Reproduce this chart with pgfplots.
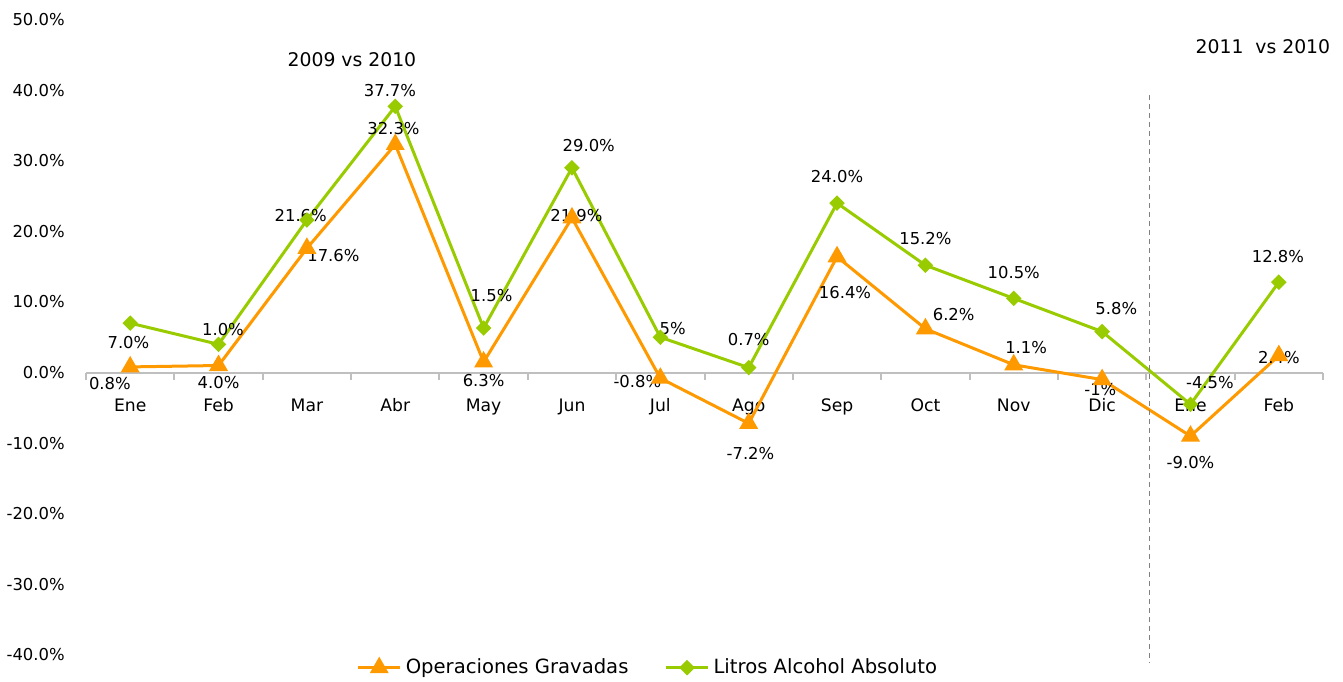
\documentclass[border=0pt]{standalone}
\usepackage{pgfplots}
\pgfplotsset{compat=1.18}
\usepackage{fontspec}
\setmainfont{DejaVu Sans}
\definecolor{orng}{HTML}{FF9900}
\definecolor{grn}{HTML}{99CC00}
\definecolor{axgray}{HTML}{BFBFBF}
\newcommand{\lbl}{\fontsize{8.2}{10}\selectfont}
\newcommand{\xlbl}{\fontsize{8.6}{10}\selectfont}
\begin{document}
\begin{tikzpicture}
\begin{axis}[
  at={(0,0)}, anchor=south west,
  scale only axis, width=618.5pt, height=317.75pt,
  xmin=-0.5, xmax=13.5, ymin=-40, ymax=50,
  clip=false,
  axis x line=middle, axis y line=left,
  x axis line style={draw=axgray, line width=1pt, -},
  y axis line style={draw=none, -},
  xtick={0,...,13},
  xticklabels={Ene,Feb,Mar,Abr,May,Jun,Jul,Ago,Sep,Oct,Nov,Dic,Ene,Feb},
  major x tick style={draw=none},
  minor xtick={-0.5,0.5,...,13.5},
  minor tick length=3.5pt,
  xtick align=outside,
  minor x tick style={draw=axgray, line width=1pt},
  x tick label style={font=\xlbl, anchor=base, yshift=-15pt},
  ytick={-40,-30,...,50},
  yticklabels={-40.0\%,-30.0\%,-20.0\%,-10.0\%,0.0\%,10.0\%,20.0\%,30.0\%,40.0\%,50.0\%},
  ytick style={draw=none},
  y tick label style={font=\lbl, anchor=east, xshift=-5pt},
  legend style={draw=none, at={(axis cs:5.87,-41.8)}, anchor=center, font=\fontsize{9.8}{11}\selectfont,
    legend columns=2, /tikz/every even column/.append style={column sep=16pt}},
  legend image code/.code={\draw[mark repeat=2,mark phase=2] plot coordinates {(0cm,0cm) (0.37cm,0cm) (0.74cm,0cm)};},
]
\addplot[orng, line width=1.5pt, mark=triangle*, mark size=4pt, mark options={solid}]
  coordinates {(0,0.8) (1,1.0) (2,17.6) (3,32.3) (4,1.5) (5,21.9) (6,-0.8) (7,-7.2) (8,16.4) (9,6.2) (10,1.1) (11,-1.0) (12,-9.0) (13,2.4)};
\addlegendentry{Operaciones Gravadas}
\addplot[grn, line width=1.5pt, mark=square*, mark size=2pt, mark options={solid, rotate=45}]
  coordinates {(0,7.0) (1,4.0) (2,21.6) (3,37.7) (4,6.3) (5,29.0) (6,5.0) (7,0.7) (8,24.0) (9,15.2) (10,10.5) (11,5.8) (12,-4.5) (13,12.8)};
\addlegendentry{Litros Alcohol Absoluto}
\begin{scope}[every node/.style={font=\lbl, inner sep=0pt}]
% orange series labels
\node at (axis cs:-0.23,-1.56) {0.8\%};
\node at (axis cs:1.0,-1.4) {4.0\%};
\node at (axis cs:2.3,16.6) {17.6\%};
\node at (axis cs:2.98,34.6) {32.3\%};
\node at (axis cs:4.0,-1.1) {6.3\%};
\node at (axis cs:5.05,22.3) {21.9\%};
\node at (axis cs:5.74,-1.3) {-0.8\%};
\node at (axis cs:7.02,-11.5) {-7.2\%};
\node at (axis cs:8.09,11.3) {16.4\%};
\node at (axis cs:9.32,8.2) {6.2\%};
\node at (axis cs:10.14,3.5) {1.1\%};
\node at (axis cs:10.98,-2.4) {-1\%};
\node at (axis cs:12.0,-12.8) {-9.0\%};
\node at (axis cs:13.0,2.1) {2.4\%};
% green series labels
\node at (axis cs:-0.02,4.3) {7.0\%};
\node at (axis cs:1.05,6.1) {1.0\%};
\node at (axis cs:1.93,22.3) {21.6\%};
\node at (axis cs:2.94,40.0) {37.7\%};
\node at (axis cs:4.09,10.9) {1.5\%};
\node at (axis cs:5.19,32.2) {29.0\%};
\node at (axis cs:6.14,6.2) {5\%};
\node at (axis cs:7.0,4.7) {0.7\%};
\node at (axis cs:8.0,27.8) {24.0\%};
\node at (axis cs:9.0,19.0) {15.2\%};
\node at (axis cs:10.0,14.2) {10.5\%};
\node at (axis cs:11.16,9.1) {5.8\%};
\node at (axis cs:12.22,-1.4) {-4.5\%};
\node at (axis cs:12.99,16.5) {12.8\%};
\end{scope}
\node[font=\fontsize{9.4}{11}\selectfont, inner sep=0pt] at (axis cs:2.51,44.3) {2009 vs 2010};
\node[font=\fontsize{9.4}{11}\selectfont, inner sep=0pt] at (axis cs:12.82,46.1) {2011\ \ vs 2010};
\draw[gray, line width=0.6pt, dash pattern=on 2.5pt off 2pt] (axis cs:11.54,39.3) -- (axis cs:11.54,-41.1);
\end{axis}
\pgfresetboundingbox
\useasboundingbox (-43pt,-13pt) rectangle (628.5pt,327.5pt);
\end{tikzpicture}
\end{document}
